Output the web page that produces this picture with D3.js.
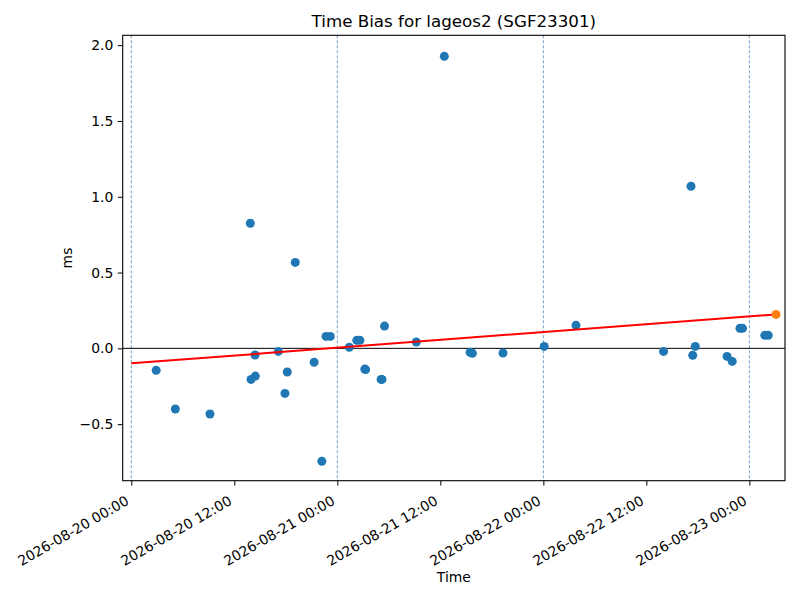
<!DOCTYPE html>
<html>
<head>
<meta charset="utf-8">
<script src="https://cdn.jsdelivr.net/npm/d3@7"></script>
<style>
  body { margin: 0; background: #fff; }
  text { font-family: "DejaVu Sans", sans-serif; fill: #000; }
</style>
</head>
<body>
<svg id="chart" width="800" height="600"></svg>
<script>
// Observation times (UTC) and time bias values (ms)
const obsTimes = [
  "2026-08-20T02:54", "2026-08-20T05:08", "2026-08-20T09:10", "2026-08-20T13:52",
  "2026-08-20T13:57", "2026-08-20T14:27", "2026-08-20T14:25", "2026-08-20T17:08",
  "2026-08-20T17:54", "2026-08-20T18:10", "2026-08-20T19:06", "2026-08-20T21:18",
  "2026-08-20T22:12", "2026-08-20T22:41", "2026-08-20T23:11", "2026-08-21T01:24",
  "2026-08-21T02:16", "2026-08-21T02:38", "2026-08-21T03:12", "2026-08-21T03:18",
  "2026-08-21T05:06", "2026-08-21T05:12", "2026-08-21T05:30", "2026-08-21T09:12",
  "2026-08-21T12:28", "2026-08-21T15:28", "2026-08-21T15:44", "2026-08-21T19:18",
  "2026-08-22T00:06", "2026-08-22T03:48", "2026-08-22T14:00", "2026-08-22T17:12",
  "2026-08-22T17:24", "2026-08-22T17:42", "2026-08-22T21:24", "2026-08-22T22:00",
  "2026-08-22T22:54", "2026-08-22T23:12", "2026-08-23T01:48", "2026-08-23T02:12"
];
const obsValues = [
  -0.145, -0.40, -0.433, 0.825,
  -0.205, -0.183, -0.044, -0.02,
  -0.297, -0.156, 0.567, -0.092,
  -0.745, 0.079, 0.079, 0.007,
  0.053, 0.053, -0.137, -0.140,
  -0.205, -0.205, 0.147, 0.042,
  1.926, -0.026, -0.033, -0.031,
  0.013, 0.152, -0.02, 1.069,
  -0.046, 0.013, -0.053, -0.086,
  0.132, 0.132, 0.086, 0.086
];

// Predicted (latest) point
const predTimes = ["2026-08-23T03:06"];
const predValues = [0.224];

// Trend line end points
const trendTimes = ["2026-08-20T00:00", "2026-08-23T03:06"];
const trendValues = [-0.099, 0.224];

// Midnight markers
const dayTimes = ["2026-08-20T00:00", "2026-08-21T00:00", "2026-08-22T00:00", "2026-08-23T00:00"];

// Axis ticks
const yTicks = [-0.5, 0.0, 0.5, 1.0, 1.5, 2.0];
const xTickTimes = [
  "2026-08-20T00:00", "2026-08-20T12:00", "2026-08-21T00:00", "2026-08-21T12:00",
  "2026-08-22T00:00", "2026-08-22T12:00", "2026-08-23T00:00"
];

const parseTime = s => new Date(s + ":00Z");
const fmtTick = d3.utcFormat("%Y-%m-%d %H:%M");

const margin = { left: 122.7, right: 15, top: 35.3, bottom: 119.3 };
const width = 800, height = 600;

const svg = d3.select("#chart");

const x = d3.scaleUtc()
  .domain([parseTime("2026-08-19T23:00"), parseTime("2026-08-23T04:09")])
  .range([margin.left, width - margin.right]);

const y = d3.scaleLinear()
  .domain([-0.873, 2.065])
  .range([height - margin.bottom, margin.top]);

// Clip to plot area
svg.append("defs").append("clipPath").attr("id", "plot")
  .append("rect")
  .attr("x", margin.left).attr("y", margin.top)
  .attr("width", width - margin.left - margin.right)
  .attr("height", height - margin.top - margin.bottom);

const plot = svg.append("g").attr("clip-path", "url(#plot)");

// Vertical dashed lines at midnight
plot.selectAll(".day")
  .data(dayTimes)
  .enter().append("line")
  .attr("x1", d => x(parseTime(d))).attr("x2", d => x(parseTime(d)))
  .attr("y1", margin.top).attr("y2", height - margin.bottom)
  .attr("stroke", "#4d86bd")
  .attr("stroke-width", 0.8)
  .attr("stroke-dasharray", "3,2");

// Zero line
plot.append("line")
  .attr("x1", margin.left).attr("x2", width - margin.right)
  .attr("y1", y(0)).attr("y2", y(0))
  .attr("stroke", "#000")
  .attr("stroke-width", 1);

// Observed points
plot.selectAll(".obs")
  .data(obsTimes)
  .enter().append("circle")
  .attr("cx", d => x(parseTime(d)))
  .attr("cy", (d, i) => y(obsValues[i]))
  .attr("r", 4.5)
  .attr("fill", "#1f77b4");

// Trend line
const line = d3.line()
  .x(d => x(parseTime(d)))
  .y((d, i) => y(trendValues[i]));

plot.append("path")
  .datum(trendTimes)
  .attr("d", line)
  .attr("fill", "none")
  .attr("stroke", "red")
  .attr("stroke-width", 2);

// Predicted point
plot.selectAll(".pred")
  .data(predTimes)
  .enter().append("circle")
  .attr("cx", d => x(parseTime(d)))
  .attr("cy", (d, i) => y(predValues[i]))
  .attr("r", 4.5)
  .attr("fill", "#ff7f0e");

// Y axis
const yAxis = svg.append("g")
  .attr("transform", `translate(${margin.left},0)`)
  .call(d3.axisLeft(y).tickValues(yTicks).tickSize(4.9).tickPadding(4.5)
    .tickFormat(d => d3.format(".1f")(d).replace("-", "\u2212")));
yAxis.select(".domain").remove();
yAxis.selectAll("line").attr("stroke", "#000").attr("stroke-width", 1);
yAxis.selectAll("text").style("font-size", "13.9px").style("font-family", "DejaVu Sans");

// X axis
const xAxis = svg.append("g")
  .attr("transform", `translate(0,${height - margin.bottom})`)
  .call(d3.axisBottom(x).tickValues(xTickTimes.map(parseTime)).tickSize(4.9).tickFormat(fmtTick));
xAxis.select(".domain").remove();
xAxis.selectAll("line").attr("stroke", "#000").attr("stroke-width", 1);
xAxis.selectAll("text")
  .style("font-size", "13.9px")
  .style("font-family", "DejaVu Sans")
  .attr("text-anchor", "end")
  .attr("y", 0).attr("dy", "0")
  .attr("transform", "translate(-2,23) rotate(-30)");

// Frame
svg.append("rect")
  .attr("x", margin.left).attr("y", margin.top)
  .attr("width", width - margin.left - margin.right)
  .attr("height", height - margin.top - margin.bottom)
  .attr("fill", "none")
  .attr("stroke", "#000")
  .attr("stroke-width", 1.1);

// Title and labels
const cx = (margin.left + width - margin.right) / 2;
svg.append("text")
  .attr("x", cx).attr("y", 27)
  .attr("text-anchor", "middle")
  .style("font-size", "16.7px")
  .text("Time Bias for lageos2 (SGF23301)");

svg.append("text")
  .attr("x", cx).attr("y", 582)
  .attr("text-anchor", "middle")
  .style("font-size", "13.9px")
  .text("Time");

svg.append("text")
  .attr("transform", `translate(72,${(margin.top + height - margin.bottom) / 2}) rotate(-90)`)
  .attr("text-anchor", "middle")
  .style("font-size", "13.9px")
  .text("ms");
</script>
</body>
</html>
